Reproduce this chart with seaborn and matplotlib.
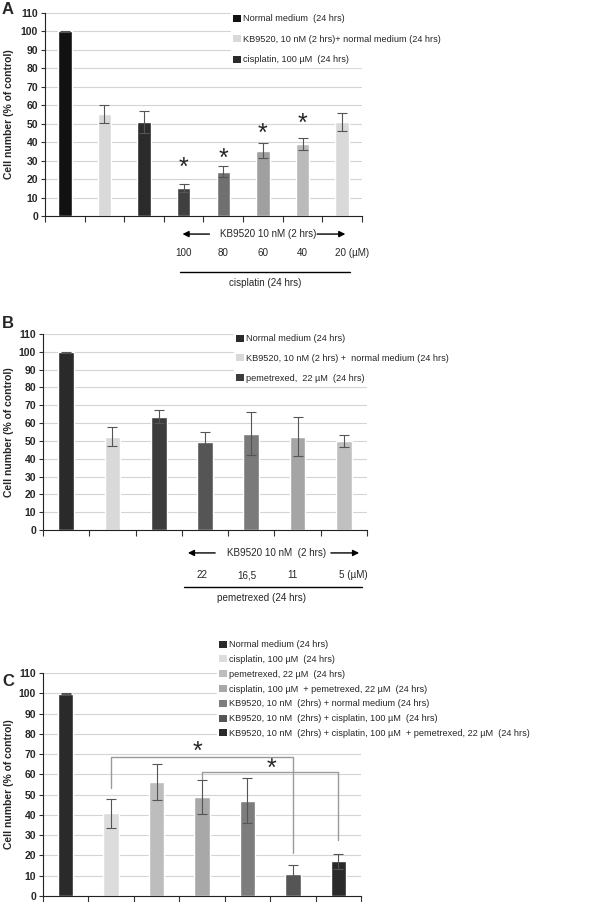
import matplotlib
matplotlib.use("Agg")
import numpy as np
import pandas as pd
import seaborn as sns
import matplotlib.pyplot as plt
from matplotlib.patches import Patch

# パネルA: KB9520 + シスプラチン
a_groups = ["Normal", "KB9520", "cis100", "KB+cis100", "KB+cis80", "KB+cis60", "KB+cis40", "KB+cis20"]
a_values = [100, 55.2, 50.8, 15.2, 23.9, 35.3, 38.9, 50.8]
a_errors = [0.3, 5.0, 6.0, 2.2, 3.0, 4.0, 3.1, 4.9]
a_colors = ["#111111", "#d9d9d9", "#2b2b2b", "#404040", "#707070", "#a0a0a0", "#bababa", "#d9d9d9"]
a_legend = ["Normal medium  (24 hrs)", "KB9520, 10 nM (2 hrs)+ normal medium (24 hrs)",
            "cisplatin, 100 µM  (24 hrs)"]
a_star_bars = [3, 4, 5, 6]
a_star_y = [29.5, 34.4, 48.0, 53.4]
a_doses = ["100", "80", "60", "40"]

# パネルB: KB9520 + ペメトレキセド
b_groups = ["Normal", "KB9520", "pem22", "KB+pem22", "KB+pem16.5", "KB+pem11", "KB+pem5"]
b_values = [99.7, 52.4, 63.6, 49.6, 54.1, 52.4, 49.8]
b_errors = [0.3, 5.4, 3.6, 5.6, 12.1, 11.0, 3.4]
b_colors = ["#2a2a2a", "#d9d9d9", "#3c3c3c", "#555555", "#7a7a7a", "#a5a5a5", "#c0c0c0"]
b_legend = ["Normal medium (24 hrs)", "KB9520, 10 nM (2 hrs) +  normal medium (24 hrs)",
            "pemetrexed,  22 µM  (24 hrs)"]
b_doses = ["22", "16,5", "11"]

# パネルC: 併用
c_groups = ["Normal", "cis", "pem", "cis+pem", "KB", "KB+cis", "KB+cis+pem"]
c_values = [99.8, 40.7, 56.3, 48.9, 47.1, 10.8, 17.1]
c_errors = [0.3, 7.0, 8.9, 8.5, 11.2, 4.3, 3.8]
c_colors = ["#2a2a2a", "#dcdcdc", "#bdbdbd", "#a8a8a8", "#7d7d7d", "#555555", "#2a2a2a"]
c_legend = ["Normal medium (24 hrs)", "cisplatin, 100 µM  (24 hrs)", "pemetrexed, 22 µM  (24 hrs)",
            "cisplatin, 100 µM  + pemetrexed, 22 µM  (24 hrs)",
            "KB9520, 10 nM  (2hrs) + normal medium (24 hrs)",
            "KB9520, 10 nM  (2hrs) + cisplatin, 100 µM  (24 hrs)",
            "KB9520, 10 nM  (2hrs) + cisplatin, 100 µM  + pemetrexed, 22 µM  (24 hrs)"]
# 有意差の括弧: (左バー, 右バー, 横線の高さ, 左脚の下端, 右脚の下端)
c_brackets = [(1, 5, 68.6, 53.2, 21.0), (3, 6, 61.0, 57.6, 27.6)]
c_star_x = [2.91, 4.52]
c_star_y = [73.5, 65.4]

sns.set_style("white")
plt.rcParams["font.family"] = ["Liberation Sans", "DejaVu Sans"]
plt.rcParams["font.size"] = 7.5

# 凡例と注記の文字
TXT = dict(fontsize=7.1)
LEG_SIZE = 6.6

W, H = 600, 902
fig = plt.figure(figsize=(W / 100, H / 100), dpi=100)


def px_axes(left, top, right, bottom):
    return fig.add_axes([left / W, 1 - bottom / H, (right - left) / W, (bottom - top) / H])


def bar_panel(ax, groups, values, errors, colors, labx):
    df = pd.DataFrame({"group": groups, "value": values})
    sns.barplot(data=df, x="group", y="value", hue="group", palette=colors,
                legend=False, width=0.34, errorbar=None, ax=ax, zorder=2)
    ax.errorbar(np.arange(len(groups)), values, yerr=errors, fmt="none",
                ecolor="#555555", elinewidth=0.8, capsize=3.5, capthick=0.8, zorder=3)
    n = len(groups)
    ax.set_xlim(-0.5, n - 0.5)
    ax.set_ylim(0, 110)
    ax.set_yticks(range(0, 111, 10))
    ax.set_xticks(np.arange(n + 1) - 0.5)
    ax.set_xticklabels([])
    ax.set_xlabel("")
    ax.set_ylabel("Cell number (% of control)", fontsize=7.5, fontweight="bold")
    ax.yaxis.set_label_coords(labx, 0.5)
    ax.grid(axis="y", color="#d4d4d4", linewidth=0.8)
    ax.set_axisbelow(True)
    for s in ["top", "right"]:
        ax.spines[s].set_visible(False)
    ax.spines["left"].set_color("#222222")
    ax.spines["bottom"].set_color("#222222")
    ax.tick_params(axis="x", length=4, width=0.8, color="#333333", direction="out", bottom=True)
    ax.tick_params(axis="y", length=3, width=0.8, color="#333333", direction="out", left=True,
                   labelsize=7.5, pad=2)
    for t in ax.get_yticklabels():
        t.set_fontweight("bold")


def panel_legend(ax, labels, colors, x, y, spacing):
    handles = [Patch(facecolor=c, edgecolor="none") for c in colors]
    ax.legend(handles, labels, loc="upper left", bbox_to_anchor=(x / W, 1 - y / H),
              bbox_transform=fig.transFigure, frameon=True, facecolor="white",
              edgecolor="white", framealpha=1, fancybox=False, handlelength=0.8,
              handleheight=0.8, handletextpad=0.3, labelspacing=spacing,
              borderpad=0.3, prop={"size": LEG_SIZE})


def arrow_row(ax, x0, x1, x2, x3, xt, y, label):
    tr = ax.get_xaxis_transform()
    for tail, head in [(x1, x0), (x2, x3)]:
        ax.annotate("", xy=(head, y), xytext=(tail, y), xycoords=tr, textcoords=tr,
                    arrowprops=dict(arrowstyle="-|>", color="black", lw=1, mutation_scale=9),
                    annotation_clip=False)
    ax.text(xt, y, label, transform=tr, ha="center", va="center", clip_on=False, **TXT)


# ---- A ----
axA = px_axes(45, 13, 362, 216)
bar_panel(axA, a_groups, a_values, a_errors, a_colors, -0.098)
panel_legend(axA, a_legend, a_colors[:3], 226, 7, 1.26)
for i, sy in zip(a_star_bars, a_star_y):
    axA.text(i, sy - 3.3, "*", ha="center", va="center", fontsize=18)
arrow_row(axA, 2.9, 3.72, 6.3, 7.15, 5.13, -0.089, "KB9520 10 nM (2 hrs)")
trA = axA.get_xaxis_transform()
for i, d in enumerate(a_doses):
    axA.text(3 + i, -0.18, d, transform=trA, ha="center", va="center", **TXT)
axA.text(6.82, -0.18, "20 (µM)", transform=trA, ha="left", va="center", **TXT)
axA.plot([2.91, 7.2], [-0.276, -0.276], transform=trA, color="black", lw=1, clip_on=False)
axA.text(5.05, -0.33, "cisplatin (24 hrs)", transform=trA, ha="center", va="center", **TXT)

# ---- B ----
axB = px_axes(43, 334, 367, 530)
bar_panel(axB, b_groups, b_values, b_errors, b_colors, -0.09)
panel_legend(axB, b_legend, b_colors[:3], 229, 327, 1.16)
arrow_row(axB, 2.57, 3.28, 5.66, 6.39, 4.55, -0.117, "KB9520 10 nM  (2 hrs)")
trB = axB.get_xaxis_transform()
for i, d in enumerate(b_doses):
    axB.text(2.93 + i * 0.98, -0.23, d, transform=trB, ha="center", va="center", **TXT)
axB.text(5.9, -0.23, "5 (µM)", transform=trB, ha="left", va="center", **TXT)
axB.plot([2.55, 6.39], [-0.29, -0.29], transform=trB, color="black", lw=1, clip_on=False)
axB.text(4.23, -0.347, "pemetrexed (24 hrs)", transform=trB, ha="center", va="center", **TXT)

# ---- C ----
axC = px_axes(43, 673, 361, 896)
bar_panel(axC, c_groups, c_values, c_errors, c_colors, -0.091)
panel_legend(axC, c_legend, c_colors, 212, 633, 0.63)
for x0, x1, yh, yl, yr in c_brackets:
    axC.plot([x0, x0, x1, x1], [yl, yh, yh, yr], color="#9a9a9a", lw=1, zorder=4)
for sx, sy in zip(c_star_x, c_star_y):
    axC.text(sx, sy - 2.5, "*", ha="center", va="center", fontsize=18)

# パネルラベル
fig.text(2 / W, 1 - 10 / H, "A", fontsize=12, fontweight="bold", va="center")
fig.text(2 / W, 1 - 323 / H, "B", fontsize=12, fontweight="bold", va="center")
fig.text(2 / W, 1 - 682 / H, "C", fontsize=12, fontweight="bold", va="center")

fig.savefig("out.png", dpi=100)
